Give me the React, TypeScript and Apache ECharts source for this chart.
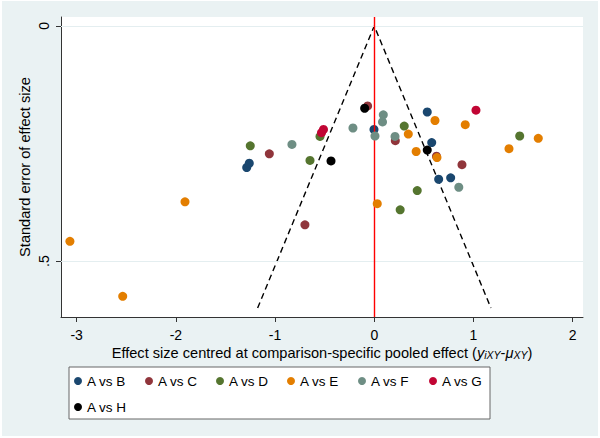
import React, { useEffect, useRef } from "react";
import * as echarts from "echarts";

// Data: [effect size centred, standard error]
const seriesNames = ["A vs B", "A vs C", "A vs D", "A vs E", "A vs F", "A vs G", "A vs H"];
const seriesColors = ["#1a476f", "#90353b", "#55752f", "#e37e00", "#6e8e84", "#c10534", "#000000"];

const avsB: [number, number][] = [
  [-1.286, 0.301], [-1.26, 0.292], [-0.003, 0.22], [0.534, 0.183], [0.579, 0.248], [0.649, 0.326], [0.77, 0.323],
];
const avsC: [number, number][] = [
  [-1.058, 0.272], [-0.699, 0.423], [-0.067, 0.17], [0.212, 0.244], [0.627, 0.277], [0.884, 0.295],
];
const avsD: [number, number][] = [
  [-1.25, 0.255], [-0.648, 0.286], [-0.547, 0.235], [0.302, 0.213], [0.433, 0.35], [0.261, 0.391], [1.466, 0.234],
];
const avsE: [number, number][] = [
  [-3.068, 0.458], [-2.536, 0.575], [-1.908, 0.374], [0.03, 0.378], [0.343, 0.23], [0.422, 0.267],
  [0.612, 0.201], [0.632, 0.28], [0.917, 0.21], [1.358, 0.261], [1.653, 0.239],
];
const avsF: [number, number][] = [
  [-0.83, 0.252], [-0.215, 0.217], [0.007, 0.234], [0.091, 0.189], [0.083, 0.204], [0.209, 0.235], [0.852, 0.343],
];
const avsG: [number, number][] = [
  [-0.512, 0.22], [-0.532, 0.227], [1.025, 0.179],
];
const avsH: [number, number][] = [
  [-0.097, 0.175], [-0.436, 0.287], [0.534, 0.264],
];
const allSeries = [avsB, avsC, avsD, avsE, avsF, avsG, avsH];

// Funnel (pseudo 95% limits) and axes
const funnelX = [-1.176, 0, 1.176];
const funnelSE = [0.6, 0, 0.6];
const xTicks = [-3, -2, -1, 0, 1, 2];
const yTicks = [0, 0.5];
const yGridValues = [0, 0.5];
const refX = 0;

export default function App() {
  const ref = useRef<HTMLDivElement>(null);
  useEffect(() => {
    if (!ref.current) return;
    const chart = echarts.init(ref.current, null, { renderer: "svg" });
    const font = "Liberation Sans, Arial, sans-serif";
    const option: any = {
      animation: false,
      backgroundColor: "#eaf2f3",
      textStyle: { fontFamily: font, color: "#000" },
      grid: {
        left: 59,
        top: 16,
        width: 522,
        height: 300,
        show: true,
        backgroundColor: "#ffffff",
        borderWidth: 0,
      },
      xAxis: {
        type: "value",
        min: -3.158,
        max: 2.104,
        axisLine: { show: true, onZero: false, lineStyle: { color: "#333", width: 1 } },
        axisTick: { show: true, length: 5, customValues: xTicks, lineStyle: { color: "#333" } },
        axisLabel: {
          customValues: xTicks,
          fontSize: 14,
          color: "#000",
          margin: 11,
          formatter: (v: number) => String(v),
        },
        splitLine: { show: false },
        name: "Effect size centred at comparison-specific pooled effect ({i|y}{s|iXY}-{i|μ}{s|XY})",
        nameLocation: "middle",
        nameMoveOverlap: false,
        nameGap: 28,
        nameTextStyle: {
          fontSize: 14.6,
          color: "#000",
          rich: {
            i: { fontSize: 14.6, fontStyle: "italic", color: "#000" },
            s: { fontSize: 10.5, fontStyle: "italic", color: "#000", verticalAlign: "bottom", padding: [4, 0, 0, 0] },
          },
        },
      },
      yAxis: {
        type: "value",
        inverse: true,
        min: -0.0191,
        max: 0.619,
        axisLine: { show: true, onZero: false, lineStyle: { color: "#333", width: 1 } },
        axisTick: { show: true, length: 5, customValues: yTicks, lineStyle: { color: "#333" } },
        axisLabel: {
          customValues: yTicks,
          fontSize: 14,
          color: "#000",
          rotate: 90,
          margin: 10,
          formatter: (v: number) => (v === 0 ? "0" : String(v).replace(/^0/, "")),
        },
        splitLine: { show: false },
        name: "Standard error of effect size",
        nameLocation: "middle",
        nameMoveOverlap: false,
        nameGap: 29,
        nameTextStyle: { fontSize: 14.6, color: "#000" },
      },
      legend: {
        data: seriesNames,
        left: 67,
        top: 366,
        width: 416,
        orient: "horizontal",
        padding: [7, 2, 5, 5],
        itemGap: 12,
        itemWidth: 8,
        itemHeight: 8,
        icon: "circle",
        backgroundColor: "#ffffff",
        borderColor: "#666",
        borderWidth: 1,
        borderRadius: 0,
        textStyle: { fontSize: 13.5, color: "#000", width: 46, lineHeight: 14, fontFamily: font },
      },
      series: [
        {
          name: "funnel",
          type: "line",
          data: funnelX.map((x, i) => [x, funnelSE[i]]),
          symbol: "none",
          silent: true,
          lineStyle: { color: "#000", width: 1.4, type: [6, 4] },
          z: 2,
          markLine: {
            silent: true,
            symbol: "none",
            label: { show: false },
            animation: false,
            data: [
              ...yGridValues.map((v) => ({ yAxis: v, lineStyle: { color: "#e4eef0", width: 1, type: "solid" } })),
              { xAxis: refX, lineStyle: { color: "#ff0000", width: 1.4, type: "solid" } },
            ],
          },
        },
        ...allSeries.map((d, i) => ({
          name: seriesNames[i],
          type: "scatter",
          data: d,
          symbol: "circle",
          symbolSize: 9,
          itemStyle: { color: seriesColors[i], opacity: 1 },
          z: 3 + i,
        })),
      ],
    };
    chart.setOption(option);
    return () => chart.dispose();
  }, []);
  return (
    <div style={{ position: "fixed", left: 0, top: 0, width: 600, height: 438, background: "#fff" }}>
      <div ref={ref} style={{ position: "absolute", left: 2, top: 1, width: 596, height: 435 }} />
    </div>
  );
}
